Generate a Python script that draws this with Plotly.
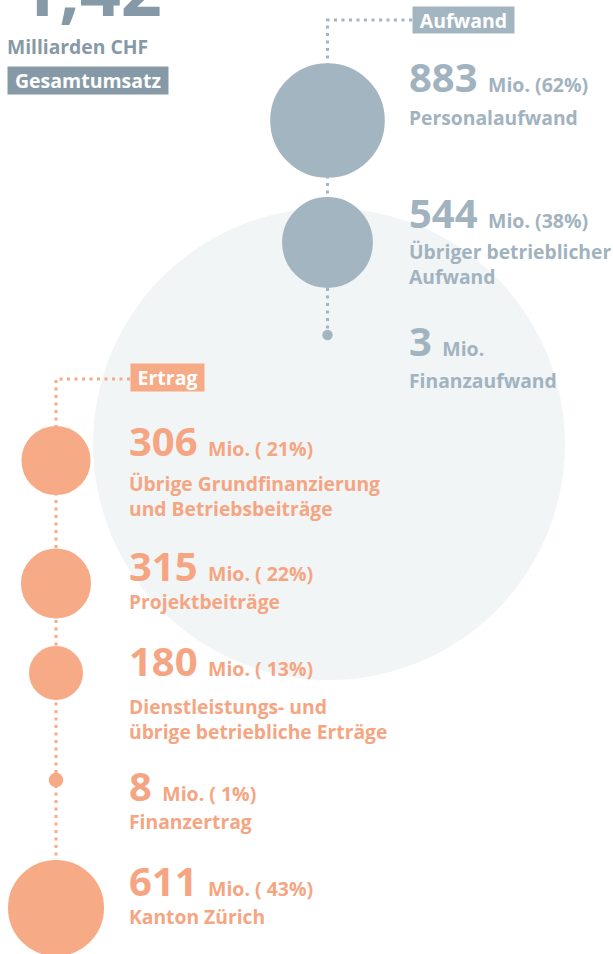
import math
import plotly.graph_objects as go

# ---------------- data ----------------
total_value = "1,42"
total_unit = "Milliarden CHF"
total_label = "Gesamtumsatz"

aufwand_title = "Aufwand"
aufwand_values = [883, 544, 3]
aufwand_shares = ["62%", "38%", ""]
aufwand_labels = ["Personalaufwand", "Übriger betrieblicher<br>Aufwand", "Finanzaufwand"]

ertrag_title = "Ertrag"
ertrag_values = [306, 315, 180, 8, 611]
ertrag_shares = ["21%", "22%", "13%", "1%", "43%"]
ertrag_labels = ["Übrige Grundfinanzierung<br>und Betriebsbeiträge", "Projektbeiträge",
                 "Dienstleistungs- und<br>übrige betriebliche Erträge", "Finanzertrag", "Kanton Zürich"]

# ---------------- layout / style ----------------
W, H = 613, 954
FONT = "Open Sans"
GRAY = "#a3b5c1"
GRAY_TXT = "#a1b3bf"
DARK = "#8699a6"
SALMON = "#f7aa86"
SALMON_TXT = "#f5a582"
BG_CIRCLE = "#f1f5f6"

AUF_CX, AUF_TX = 327.5, 407.5
ERT_CX, ERT_TX = 56, 127.5
auf_cy = [120.5, 242.5, 335]
ert_cy = [460.5, 583.5, 673, 780, 908]
auf_num_base = [93, 229, 357]
auf_lab_base = [124, 258, 387]
ert_num_base = [457, 582, 677, 802, 897]
ert_lab_base = [490, 608, 713, 828, 923]

NUM_SIZE, SMALL_SIZE, LAB_SIZE = 40, 19.5, 19.3
ASC, DESC = 1.069, 0.293
K = 92 / math.sqrt(611)  # diameter per sqrt(Mio.)


def diam(v):
    return K * math.sqrt(v)


fig = go.Figure()

# dotted connectors
dot_style = dict(width=3, dash="3px,4.5px")
fig.add_trace(go.Scatter(x=[412, AUF_CX, AUF_CX], y=[20, 20, auf_cy[-1]], mode="lines",
                         line=dict(color=GRAY, **dot_style), hoverinfo="skip", showlegend=False))
fig.add_trace(go.Scatter(x=[130, ERT_CX, ERT_CX], y=[379, 379, ert_cy[-1]], mode="lines",
                         line=dict(color=SALMON, **dot_style), hoverinfo="skip", showlegend=False))

# circles
fig.add_trace(go.Scatter(x=[AUF_CX] * len(aufwand_values), y=auf_cy, mode="markers",
                         marker=dict(size=[diam(v) for v in aufwand_values], sizemode="diameter",
                                     color=GRAY, opacity=1, line=dict(color=GRAY, width=4)),
                         hoverinfo="skip", showlegend=False))
fig.add_trace(go.Scatter(x=[ERT_CX] * len(ertrag_values), y=ert_cy, mode="markers",
                         marker=dict(size=[diam(v) for v in ertrag_values], sizemode="diameter",
                                     color=SALMON, opacity=1, line=dict(color=SALMON, width=4)),
                         hoverinfo="skip", showlegend=False))

ann = []


def num_text(v, share, gap):
    small = "Mio." + (f" ({gap}{share})" if share else "")
    return f"{v} <span style='font-size:{SMALL_SIZE}px'>{small}</span>"


def add_number(x, base, text, color):
    ann.append(dict(x=x, y=base + DESC * NUM_SIZE, xref="x", yref="y", xanchor="left", yanchor="bottom",
                    text=text, showarrow=False, borderpad=0, align="left",
                    font=dict(family=FONT, size=NUM_SIZE, color=color, weight=700)))


def add_label(x, base, text, color):
    ann.append(dict(x=x, y=base - ASC * LAB_SIZE, xref="x", yref="y", xanchor="left", yanchor="top",
                    text=text, showarrow=False, borderpad=0, align="left",
                    font=dict(family=FONT, size=LAB_SIZE, color=color, weight=700)))


for v, s, lab, nb, lb in zip(aufwand_values, aufwand_shares, aufwand_labels, auf_num_base, auf_lab_base):
    add_number(AUF_TX, nb, num_text(v, s, ""), GRAY_TXT)
    add_label(AUF_TX, lb, lab, GRAY_TXT)

for v, s, lab, nb, lb in zip(ertrag_values, ertrag_shares, ertrag_labels, ert_num_base, ert_lab_base):
    add_number(ERT_TX, nb, num_text(v, s, " "), SALMON_TXT)
    add_label(ERT_TX, lb, lab, SALMON_TXT)

# title boxes
for x, yc, w, h, txt, bg in [(412, 20, 101, 26, aufwand_title, GRAY),
                             (130, 377.5, 73, 27, ertrag_title, SALMON),
                             (7, 80.5, 160, 27, total_label, DARK)]:
    ann.append(dict(x=x, y=yc, xref="x", yref="y", xanchor="left", yanchor="middle", text=txt,
                    showarrow=False, bgcolor=bg, width=w, height=h, borderpad=0, align="center",
                    font=dict(family=FONT, size=19.5, color="white", weight=700)))

# headline total
ann.append(dict(x=17, y=17 + DESC * 72, xref="x", yref="y", xanchor="left", yanchor="bottom",
                text=total_value, showarrow=False, borderpad=0,
                font=dict(family=FONT, size=72, color=DARK, weight=700)))
ann.append(dict(x=6, y=55 + DESC * 19.3, xref="x", yref="y", xanchor="left", yanchor="bottom",
                text=total_unit, showarrow=False, borderpad=0,
                font=dict(family=FONT, size=19.3, color=DARK, weight=700)))

fig.update_layout(
    width=W, height=H, autosize=False,
    margin=dict(l=0, r=0, t=0, b=0, pad=0),
    paper_bgcolor="white", plot_bgcolor="rgba(0,0,0,0)",
    xaxis=dict(range=[0, W], visible=False, fixedrange=True),
    yaxis=dict(range=[H, 0], visible=False, fixedrange=True),
    shapes=[dict(type="circle", xref="x", yref="y", x0=93, x1=565, y0=208, y1=680,
                 fillcolor=BG_CIRCLE, line=dict(width=0), layer="below")],
    annotations=ann,
    showlegend=False,
)

fig.write_html("out.html", config={"displayModeBar": False, "staticPlot": True},
               post_script="document.body.style.margin='0';document.body.style.overflow='hidden';")
